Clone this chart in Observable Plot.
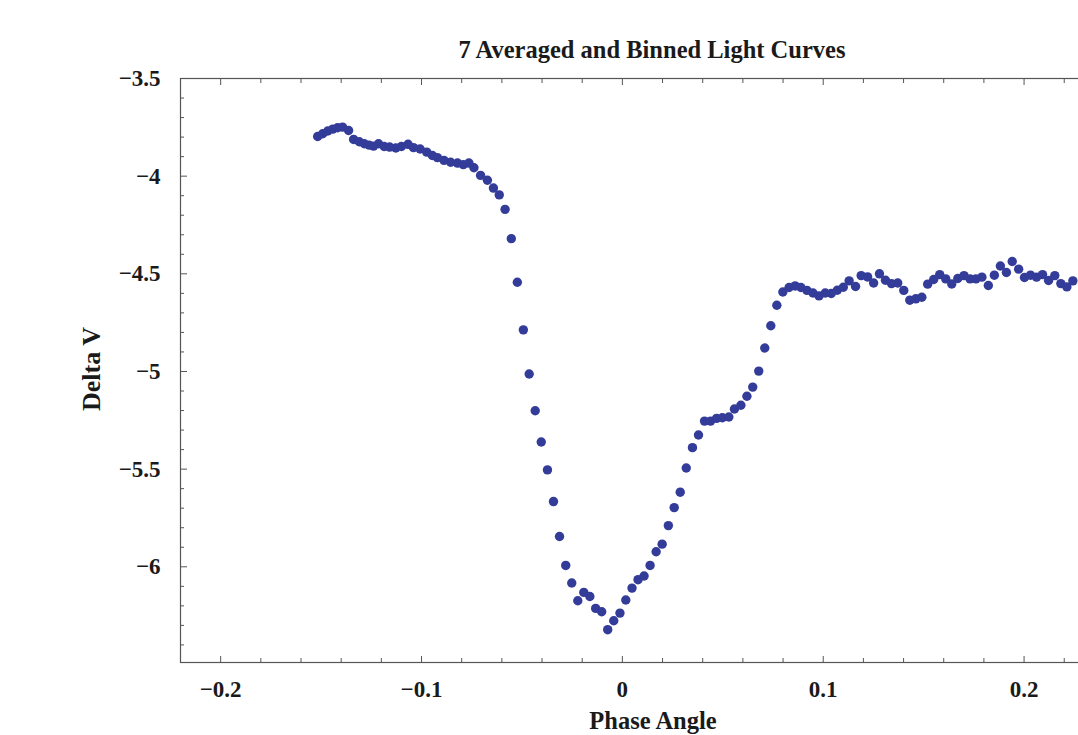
<!DOCTYPE html>
<html><head><meta charset="utf-8">
<script src="https://cdn.jsdelivr.net/npm/d3@7"></script>
<script src="https://cdn.jsdelivr.net/npm/@observablehq/plot@0.6"></script>
<style>
html,body{margin:0;padding:0;overflow:hidden;background:#fff}
#wrap{position:relative;width:1078px;height:735px;overflow:hidden;background:#fff}
.lbl{position:absolute;font-family:"Liberation Serif","Times New Roman",serif;font-weight:bold;color:#1a1a1a;white-space:nowrap;line-height:1;z-index:2}
#title{left:652px;top:38px;font-size:24.5px;transform:translateX(-50%)}
#xlabel{left:653px;top:709px;font-size:24.5px;transform:translateX(-50%)}
#ylabel{left:92px;top:369px;font-size:26px;transform:translate(-50%,-50%) rotate(-90deg)}
#chart{position:absolute;left:0;top:0;width:1126px}
#chart svg{max-width:none !important}
</style></head><body>
<div id="wrap">
<div id="title" class="lbl">7 Averaged and Binned Light Curves</div>
<div id="xlabel" class="lbl">Phase Angle</div>
<div id="ylabel" class="lbl">Delta V</div>
<div id="chart"></div>
</div>
<script>
const phase = [-0.1517,-0.1492,-0.1467,-0.1442,-0.1418,-0.1393,-0.1363,-0.1338,-0.1310,-0.1285,-0.1261,-0.1239,-0.1214,-0.1186,-0.1159,-0.1128,-0.1100,-0.1067,-0.1040,-0.1007,-0.0974,-0.0946,-0.0921,-0.0888,-0.0855,-0.0821,-0.0792,-0.0764,-0.0739,-0.0706,-0.0672,-0.0642,-0.0613,-0.0584,-0.0553,-0.0523,-0.0493,-0.0464,-0.0434,-0.0404,-0.0373,-0.0343,-0.0313,-0.0282,-0.0252,-0.0222,-0.0192,-0.0162,-0.0133,-0.0103,-0.0073,-0.0043,-0.0012,0.0017,0.0048,0.0078,0.0108,0.0138,0.0168,0.0198,0.0229,0.0258,0.0288,0.0318,0.0349,0.0379,0.0409,0.0439,0.0469,0.0498,0.0530,0.0558,0.0590,0.0620,0.0649,0.0679,0.0709,0.0739,0.0769,0.0799,0.0830,0.0860,0.0889,0.0919,0.0949,0.0979,0.1010,0.1040,0.1070,0.1100,0.1129,0.1161,0.1189,0.1221,0.1251,0.1280,0.1310,0.1340,0.1371,0.1401,0.1431,0.1461,0.1491,0.1520,0.1550,0.1580,0.1610,0.1640,0.1670,0.1701,0.1731,0.1760,0.1790,0.1822,0.1852,0.1882,0.1912,0.1941,0.1973,0.2002,0.2032,0.2062,0.2092,0.2122,0.2153,0.2183,0.2213,0.2243];
const deltaV = [-3.797,-3.783,-3.769,-3.759,-3.752,-3.749,-3.766,-3.812,-3.824,-3.834,-3.841,-3.846,-3.834,-3.848,-3.851,-3.856,-3.848,-3.837,-3.854,-3.861,-3.877,-3.894,-3.905,-3.919,-3.929,-3.933,-3.941,-3.933,-3.957,-3.996,-4.021,-4.061,-4.096,-4.170,-4.320,-4.543,-4.787,-5.013,-5.201,-5.361,-5.504,-5.666,-5.845,-5.993,-6.083,-6.174,-6.131,-6.152,-6.213,-6.230,-6.322,-6.276,-6.237,-6.170,-6.109,-6.066,-6.047,-5.993,-5.923,-5.884,-5.789,-5.697,-5.618,-5.494,-5.390,-5.325,-5.254,-5.254,-5.240,-5.237,-5.233,-5.192,-5.173,-5.127,-5.080,-4.998,-4.880,-4.766,-4.661,-4.593,-4.570,-4.562,-4.570,-4.585,-4.598,-4.613,-4.598,-4.601,-4.584,-4.569,-4.536,-4.565,-4.509,-4.516,-4.547,-4.500,-4.533,-4.550,-4.547,-4.585,-4.635,-4.628,-4.620,-4.553,-4.529,-4.504,-4.526,-4.552,-4.524,-4.509,-4.526,-4.526,-4.517,-4.560,-4.507,-4.460,-4.493,-4.437,-4.476,-4.519,-4.507,-4.517,-4.504,-4.534,-4.509,-4.550,-4.567,-4.536];

const xMajorTicks = [-0.2, -0.1, 0, 0.1, 0.2];
const xMinorTicks = [-0.18,-0.16,-0.14,-0.12,-0.08,-0.06,-0.04,-0.02,0.02,0.04,0.06,0.08,0.12,0.14,0.16,0.18,0.22,0.24];
const yMajorTicks = [-3.5, -4, -4.5, -5, -5.5, -6];
const yMinorTicks = [-3.6,-3.7,-3.8,-3.9,-4.1,-4.2,-4.3,-4.4,-4.6,-4.7,-4.8,-4.9,-5.1,-5.2,-5.3,-5.4,-5.6,-5.7,-5.8,-5.9,-6.1,-6.2,-6.3,-6.4];
const xDomain = [-0.22, 0.25];
const yDomain = [-6.49, -3.5];

const data = phase.map((p, i) => ({phase: p, dv: deltaV[i]}));
const axisColor = "#555";
const fmt = d3.format("~g");

const chart = Plot.plot({
  width: 1126,
  height: 735,
  marginLeft: 180,
  marginRight: 2,
  marginTop: 78,
  marginBottom: 73,
  style: {fontFamily: "'Liberation Serif','Times New Roman',serif", fontWeight: "bold", fontSize: "23px", color: "#1a1a1a", background: "white", maxWidth: "none"},
  x: {domain: xDomain},
  y: {domain: yDomain},
  marks: [
    Plot.frame({stroke: axisColor, strokeWidth: 1.2}),
    Plot.axisX(xMajorTicks, {anchor: "bottom", tickSize: 0, tickPadding: 18, tickFormat: fmt, label: null}),
    Plot.axisX(xMajorTicks, {anchor: "bottom", tickSize: -6, fill: "none", stroke: axisColor, label: null}),
    Plot.axisX(xMinorTicks, {anchor: "bottom", tickSize: -4, fill: "none", stroke: axisColor, label: null}),
    Plot.axisX(xMajorTicks, {anchor: "top", tickSize: -6, fill: "none", stroke: axisColor, label: null}),
    Plot.axisX(xMinorTicks, {anchor: "top", tickSize: -4, fill: "none", stroke: axisColor, label: null}),
    Plot.axisY(yMajorTicks, {anchor: "left", tickSize: 0, tickPadding: 20, tickFormat: fmt, label: null}),
    Plot.axisY(yMajorTicks, {anchor: "left", tickSize: -7, fill: "none", stroke: axisColor, label: null}),
    Plot.axisY(yMinorTicks, {anchor: "left", tickSize: -4, fill: "none", stroke: axisColor, label: null}),
    Plot.dot(data, {x: "phase", y: "dv", r: 4.7, fill: "#343c99", stroke: null})
  ]
});
document.getElementById("chart").appendChild(chart);
</script>
</body></html>
